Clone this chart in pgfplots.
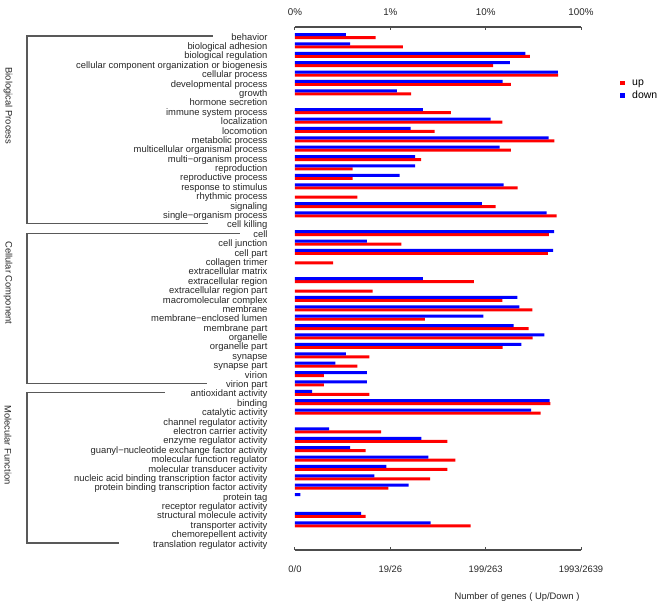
\documentclass[border=0pt]{standalone}
\usepackage{fontspec}
\setmainfont{Liberation Sans}
\usepackage{pgfplots}
\pgfplotsset{compat=1.18}
\usepackage{pgfplotstable}

% counts of genes: up (total 1993), down (total 2639)
\pgfplotstableread{
idx up down
0 14 9
1 27 10
2 581 688
3 238 475
4 1144 1514
5 367 398
6 33 31
7 0 0
8 86 58
9 298 298
10 58 43
11 1047 1209
12 367 370
13 42 48
14 8 48
15 8 33
16 432 408
17 9 0
18 254 241
19 1107 1152
20 0 0
21 920 1375
22 26 15
23 898 1342
24 5 0
25 0 0
26 150 58
27 13 0
28 298 567
29 615 595
30 46 249
31 563 519
32 620 1089
33 300 625
34 12 9
35 9 7
36 4 15
37 4 15
38 12 4
39 950 1238
40 752 789
41 0 0
42 16 6
43 79 56
44 11 10
45 96 66
46 79 24
47 52 18
48 19 41
49 0 3
50 0 0
51 11 13
52 139 70
53 0 0
54 0 0
}\godata

\newcommand{\lbl}{\fontsize{9.4}{10}\selectfont}

\begin{document}
\begin{tikzpicture}
\begin{axis}[
  name=ax, at={(0,0)}, anchor=south west,
  scale only axis, width=286pt, height=523pt,
  xmode=log, xmin=0.1, xmax=100, log origin x=infty,
  ymin=-0.96, ymax=54.74, y dir=reverse,
  separate axis lines,
  x axis line style={draw=black!70, line width=1.2pt},
  y axis line style={draw=none},
  xtick={0.1,1,10,100}, xticklabels={0/0,19/26,199/263,1993/2639},
  xminorticks=false, xtick pos=both, xticklabel pos=lower, tick align=inside,
  major tick length=3pt,
  xtick style={draw=black!70, line width=1pt},
  ytick={0,...,54},
  yticklabels={
    {behavior},{biological adhesion},{biological regulation},
    {cellular component organization or biogenesis},{cellular process},
    {developmental process},{growth},{hormone secretion},{immune system process},
    {localization},{locomotion},{metabolic process},{multicellular organismal process},
    {multi−organism process},{reproduction},{reproductive process},
    {response to stimulus},{rhythmic process},{signaling},{single−organism process},
    {cell killing},
    {cell},{cell junction},{cell part},{collagen trimer},{extracellular matrix},
    {extracellular region},{extracellular region part},{macromolecular complex},
    {membrane},{membrane−enclosed lumen},{membrane part},{organelle},{organelle part},
    {synapse},{synapse part},{virion},{virion part},
    {antioxidant activity},{binding},{catalytic activity},{channel regulator activity},
    {electron carrier activity},{enzyme regulator activity},
    {guanyl−nucleotide exchange factor activity},{molecular function regulator},
    {molecular transducer activity},{nucleic acid binding transcription factor activity},
    {protein binding transcription factor activity},{protein tag},
    {receptor regulator activity},{structural molecule activity},{transporter activity},
    {chemorepellent activity},{translation regulator activity}},
  ytick style={draw=none},
  yticklabel style={font=\lbl, text=black!85, anchor=east, text height=6.8pt, text depth=0pt, xshift=-24pt, yshift=-0.7pt},
  xticklabel style={font=\lbl, text=black!85, yshift=-12pt},
  xlabel={Number of genes ( Up/Down )},
  xlabel style={at={(1,0)}, anchor=east, yshift=-47pt, xshift=2pt, font=\lbl, text=black!85},
  clip=false,
  legend style={at={(1.1364,0.904)}, anchor=north west, draw=none, fill=none,
    font=\fontsize{10.5}{12}\selectfont, row sep=0.6pt, inner sep=0pt},
  legend cell align=left,
]
\addplot[xbar, bar width=3pt, bar shift=-1.5pt, fill=red, draw=none, forget plot]
  table[x expr=\thisrow{up}*100/1993, y=idx]{\godata};
\addplot[xbar, bar width=3pt, bar shift=1.5pt, fill=blue, draw=none, forget plot]
  table[x expr=\thisrow{down}*100/2639, y=idx]{\godata};
\addlegendimage{legend image code/.code={\path[fill=red, draw=none] (0pt,-2.3pt) rectangle (4.6pt,2.3pt); \path[draw=none, fill=none] (0pt,0pt) rectangle (10pt,0.1pt);}}
\addlegendentry{up}
\addlegendimage{legend image code/.code={\path[fill=blue, draw=none] (0pt,-2.3pt) rectangle (4.6pt,2.3pt); \path[draw=none, fill=none] (0pt,0pt) rectangle (10pt,0.1pt);}}
\addlegendentry{down}

% group brackets
\draw[black!65, line width=1.2pt] ([xshift=-82pt]axis cs:0.1,0) -- ([xshift=-268pt]axis cs:0.1,0)
  -- ([xshift=-268pt]axis cs:0.1,20) -- ([xshift=-87pt]axis cs:0.1,20);
\draw[black!65, line width=1.2pt] ([xshift=-55pt]axis cs:0.1,21) -- ([xshift=-268pt]axis cs:0.1,21)
  -- ([xshift=-268pt]axis cs:0.1,37) -- ([xshift=-88pt]axis cs:0.1,37);
\draw[black!65, line width=1.2pt] ([xshift=-130pt]axis cs:0.1,38) -- ([xshift=-268pt]axis cs:0.1,38)
  -- ([xshift=-268pt]axis cs:0.1,54) -- ([xshift=-176pt]axis cs:0.1,54);
\node[rotate=-90, font=\lbl, text=black!85] at ([xshift=-287pt]axis cs:0.1,7.45) {Biological Process};
\node[rotate=-90, font=\lbl, text=black!85] at ([xshift=-287pt]axis cs:0.1,26.3) {Cellular Component};
\node[rotate=-90, font=\lbl, text=black!85] at ([xshift=-287pt]axis cs:0.1,43.56) {Molecular Function};
\end{axis}

\begin{axis}[
  at={(ax.south west)}, anchor=south west,
  scale only axis, width=286pt, height=523pt,
  xmode=log, xmin=0.1, xmax=100, ymin=0, ymax=1,
  axis line style={draw=none}, ytick=\empty,
  xtick={0.1,1,10,100}, xticklabels={0\%,1\%,10\%,100\%},
  xminorticks=false, xticklabel pos=upper, xtick style={draw=none},
  xticklabel style={font=\fontsize{9.8}{11}\selectfont, text=black!85, yshift=8pt},
]
\end{axis}

\pgfresetboundingbox
\path[use as bounding box] ([shift={(-295pt,-53pt)}]ax.south west) rectangle ([shift={(365pt,550pt)}]ax.south west);
\end{tikzpicture}
\end{document}
